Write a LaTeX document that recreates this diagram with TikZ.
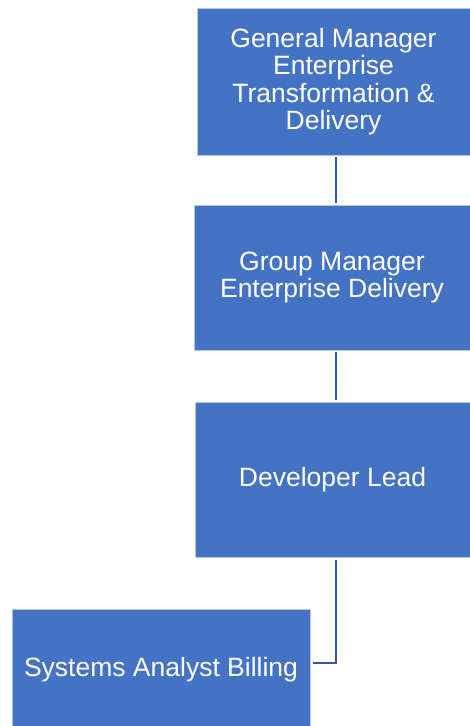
\documentclass[tikz,border=0pt]{standalone}
\usepackage{fontspec}
\setmainfont{Liberation Sans}
\definecolor{orgblue}{RGB}{68,114,196}
\definecolor{orglink}{RGB}{52,87,160}
\begin{document}
\begin{tikzpicture}[x=1pt,y=-1pt,
  block/.style={rectangle, fill=orgblue, draw=white!60!orgblue, line width=0.5pt, text=white, align=center, inner sep=0pt, font=\fontsize{26.5}{27.4}\selectfont},
  link/.style={draw=orglink, line width=1.6pt}
]
\useasboundingbox (0,0) rectangle (470,726);
% Boxes
\node[block, minimum width=273pt, minimum height=147pt] (gm) at (333.5,81.5) {General Manager\\Enterprise\\Transformation \&\\Delivery};
\node[block, minimum width=276pt, minimum height=145pt] (grp) at (332,277.5) {Group Manager\\Enterprise Delivery};
\node[block, minimum width=275pt, minimum height=155pt] (lead) at (332.5,479.5) {Developer Lead};
\node[block, minimum width=298pt, minimum height=122pt] (analyst) at (161,670) {Systems Analyst Billing};

% Connections
\coordinate (spine) at (336,0);
\draw[link, shorten <=2pt, shorten >=2pt] (gm.south -| spine) -- (grp.north -| spine);
\draw[link, shorten <=2pt, shorten >=2pt] (grp.south -| spine) -- (lead.north -| spine);
\draw[link, shorten <=3pt, shorten >=3pt] (lead.south -| spine) |- ([yshift=7pt]analyst.east);
\end{tikzpicture}
\end{document}
